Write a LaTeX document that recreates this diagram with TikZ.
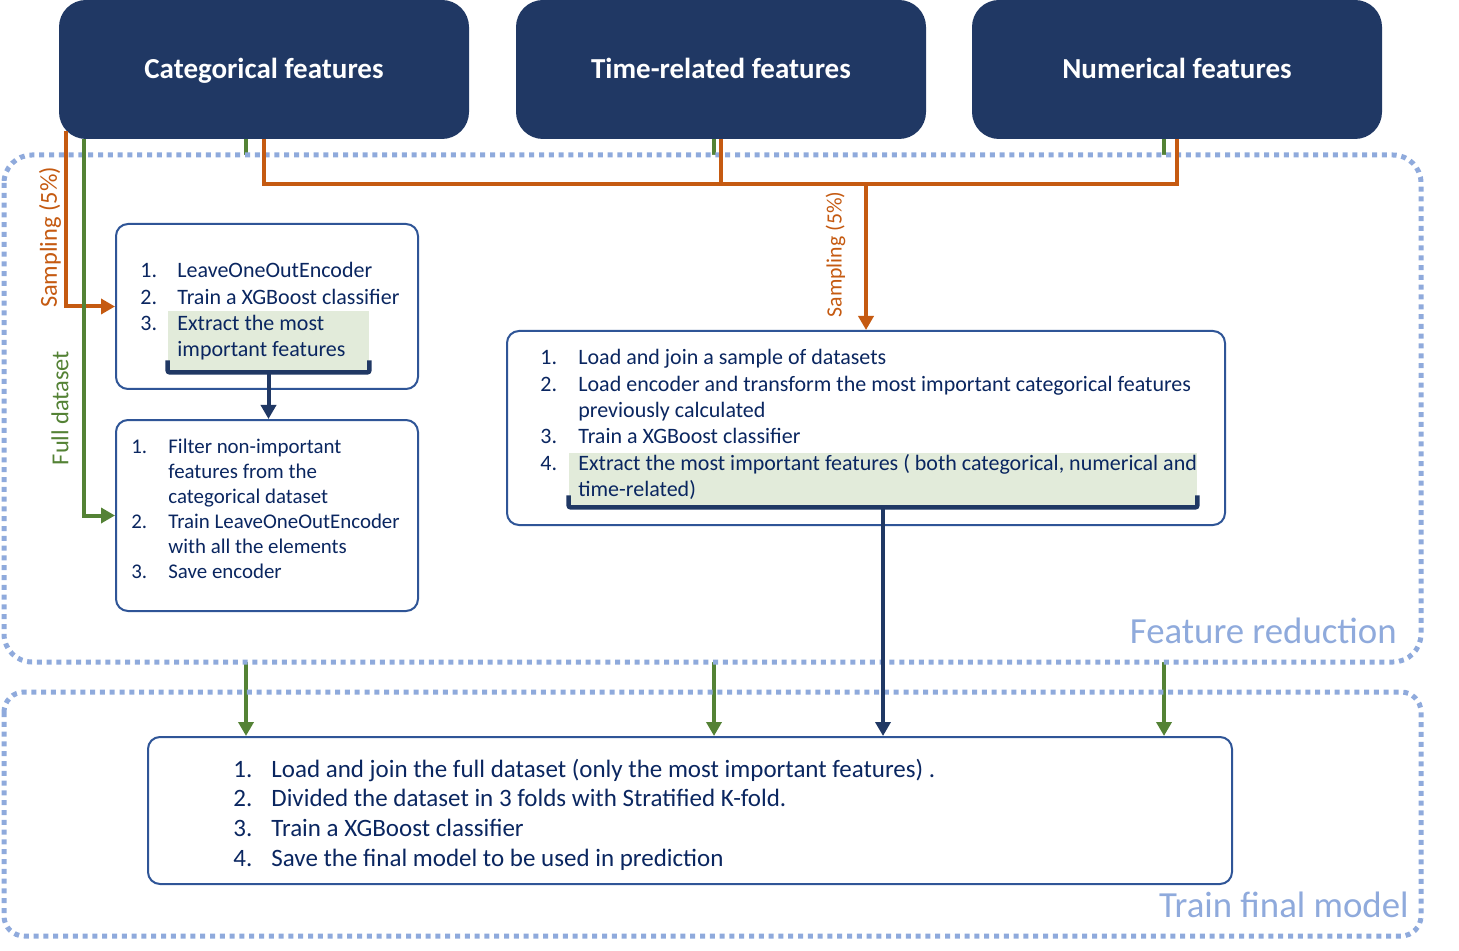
\documentclass[tikz,border=0pt]{standalone}
\usepackage{fontspec}
\setmainfont{Carlito}
\usetikzlibrary{arrows.meta}
\definecolor{navy}{HTML}{203864}
\definecolor{frameblue}{HTML}{2F5597}
\definecolor{ink}{HTML}{0A2660}
\definecolor{sampleorange}{HTML}{C55A11}
\definecolor{fullgreen}{HTML}{548235}
\definecolor{zoneblue}{HTML}{8FAADC}
\definecolor{keygreen}{HTML}{E2EBDA}
\begin{document}
\begin{tikzpicture}[x=0.5pt,y=-0.5pt,>={Triangle[length=7pt,width=7.5pt]},
    feat/.style={rectangle,rounded corners=13.5pt,fill=navy,text=white,text height=11pt,text depth=1.5pt,
      font=\fontsize{14.5}{16}\selectfont\bfseries,minimum width=205pt,minimum height=69.5pt},
    stepbox/.style={rectangle,rounded corners=6pt,draw=frameblue,line width=1pt},
    steps/.style={anchor=base west,inner sep=0pt,text=ink},
    keybox/.style={rectangle,fill=keygreen,inner sep=0pt},
    brack/.style={draw=navy,line width=2.2pt,rounded corners=1pt},
    navarr/.style={draw=navy,line width=2pt},
    samp/.style={draw=sampleorange,line width=2pt},
    fullds/.style={draw=fullgreen,line width=2pt},
    zone/.style={draw=zoneblue,line width=2.5pt,dash pattern=on 2.5pt off 2.4pt},
    zonelbl/.style={anchor=base east,inner sep=0pt,text=zoneblue,font=\fontsize{18.4}{22}\selectfont}]
  \useasboundingbox (0,0) rectangle (1459,951);
  % source features
  \node[feat] (cat) at (264,69.5) {Categorical features};
  \node[feat] (time) at (721,69.5) {Time-related features};
  \node[feat] (num) at (1177,69.5) {Numerical features};
  % final model
  \node[stepbox,minimum width=542pt,minimum height=73.5pt] (fin) at (690,810.5) {};
  \draw[fullds,->] ([xshift=-9pt]cat.south) -- ([xshift=-9pt]cat.south |- fin.north);
  \draw[fullds,->] ([xshift=-3.5pt]time.south) -- ([xshift=-3.5pt]time.south |- fin.north);
  \draw[fullds,->] ([xshift=-6.5pt]num.south) -- ([xshift=-6.5pt]num.south |- fin.north);
  % zones
  \draw[zone,fill=white,rounded corners=14pt] (4,155) rectangle (1421,662);
  \draw[zone,rounded corners=10pt] (4,692) rectangle (1421,936);
  \node[zonelbl] (redlbl) at (1397,643) {Feature reduction};
  \node[zonelbl] (trainlbl) at (1409,917) {Train final model};
  % categorical encoder
  \node[keybox,minimum width=100.5pt,minimum height=30.5pt] (keyA) at (268.5,341.5) {};
  \node[stepbox,minimum width=151pt,minimum height=82.5pt] (encA) at (267,306.5) {};
  \node[steps,font=\fontsize{11}{13.1}\selectfont] (listA) at (140,278) {\begin{tabular}[t]{@{}p{18.5pt}@{}l@{}}
    1. & LeaveOneOutEncoder\\
    2. & Train a XGBoost classifier\\
    3. & Extract the most\\
       & important features
  \end{tabular}};
  \draw[brack] ([yshift=6pt]keyA.south west) -- (keyA.south west) -- (keyA.south east) -- ([yshift=6pt]keyA.south east);
  \node[stepbox,minimum width=151pt,minimum height=95.5pt] (encB) at (267,515.5) {};
  \node[steps,font=\fontsize{10.45}{12.5}\selectfont] (listB) at (131,453) {\begin{tabular}[t]{@{}p{18.5pt}@{}l@{}}
    1. & Filter non-important\\
       & features from the\\
       & categorical dataset\\
    2. & Train LeaveOneOutEncoder\\
       & with all the elements\\
    3. & Save encoder
  \end{tabular}};
  \draw[navarr,->] (keyA.south) -- (keyA.south |- encB.north);
  % joined sample
  \node[keybox,minimum width=314pt,minimum height=27pt] (keyB) at (883,480) {};
  \node[stepbox,minimum width=359pt,minimum height=97pt] (joinbox) at (866,428) {};
  \node[steps,font=\fontsize{11}{13.15}\selectfont] (listC) at (540,365) {\begin{tabular}[t]{@{}p{19pt}@{}l@{}}
    1. & Load and join a sample of datasets\\
    2. & Load encoder and transform the most important categorical features\\
       & previously calculated\\
    3. & Train a XGBoost classifier\\
    4. & Extract the most important features ( both categorical, numerical and\\
       & time-related)
  \end{tabular}};
  \draw[brack] ([yshift=6pt]keyB.south west) -- (keyB.south west) -- (keyB.south east) -- ([yshift=6pt]keyB.south east);
  \draw[navarr,->] (keyB.south) -- (keyB.south |- fin.north);
  \node[steps,font=\fontsize{12.5}{14.85}\selectfont] (listD) at (233,777) {\begin{tabular}[t]{@{}p{19pt}@{}l@{}}
    1. & Load and join the full dataset (only the most important features) .\\
    2. & Divided the dataset in 3 folds with Stratified K-fold.\\
    3. & Train a XGBoost classifier\\
    4. & Save the final model to be used in prediction
  \end{tabular}};
  % sampling and full dataset connectors
  \draw[samp,->] ([xshift=3.5pt,yshift=4pt]cat.south west) |- (encA.west);
  \node[text=sampleorange,rotate=90,inner sep=0pt,font=\fontsize{12.2}{14}\selectfont] (sampA) at (50,237.5) {Sampling (5\%)};
  \draw[fullds,->] ([xshift=12.5pt]cat.south west) |- (encB.west);
  \node[text=fullgreen,rotate=90,inner sep=0pt,font=\fontsize{12.2}{14}\selectfont] (fullA) at (60,408) {Full dataset};
  \coordinate (split) at (866,184);
  \draw[samp] (cat.south) |- (split);
  \draw[samp] (time.south) -- (time.south |- split);
  \draw[samp] (num.south) |- (split);
  \draw[samp,->] (split) -- (joinbox.north);
  \node[text=sampleorange,rotate=90,inner sep=0pt,font=\fontsize{10.9}{13}\selectfont] (sampB) at (835.5,254.5) {Sampling (5\%)};
\end{tikzpicture}
\end{document}
